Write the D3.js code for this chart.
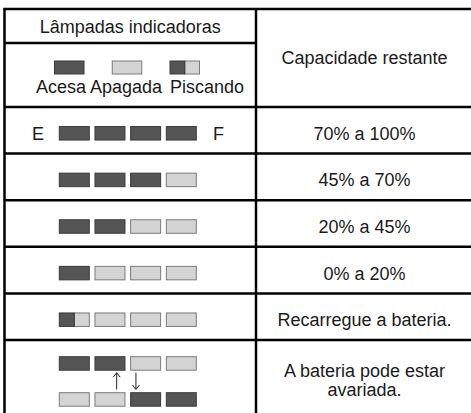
<!DOCTYPE html>
<html><head><meta charset="utf-8">
<script src="https://cdn.jsdelivr.net/npm/d3@7"></script>
<style>
html,body{margin:0;padding:0;background:#fff;}
svg{display:block;}
text{font-family:"Liberation Sans",Arial,Helvetica,sans-serif;fill:#1a1a1a;}
</style></head>
<body>
<script>
// ---- data ----
const headerLeft = "Lâmpadas indicadoras";
const headerRight = "Capacidade restante";
const legendStates = ["on", "off", "blink"];
const legendLabels = ["Acesa", "Apagada", "Piscando"];
const lampIndex = [0, 1, 2, 3];
const rowLamps = [
  [["on","on","on","on"]],
  [["on","on","on","off"]],
  [["on","on","off","off"]],
  [["on","off","off","off"]],
  [["blink","off","off","off"]],
  [["on","on","off","off"], ["off","off","on","on"]]
];
const rowCapacity = [
  ["70% a 100%"],
  ["45% a 70%"],
  ["20% a 45%"],
  ["0% a 20%"],
  ["Recarregue a bateria."],
  ["A bateria pode estar", "avariada."]
];
const endLabels = ["E", "F"];

// ---- layout ----
const W = 471, H = 413;
const svg = d3.select("body").append("svg").attr("width", W).attr("height", H);

const xLeft = 4.5, xDiv = 256, xRight = W;
const yTop = 9, yHead = 43, yRows = 107;
const rowH = 46.6;
const FS = 18;

const colors = {onFill:"#555555", onStroke:"#3a3a3a", offFill:"#d4d4d4", offStroke:"#7a7a7a"};

// lamp x scale
const x = d3.scaleBand().domain(lampIndex).range([59.3, 196.3]).paddingInner(0.159).paddingOuter(0);
const lampH = 13.5;

// row boundaries
const rowEdges = rowLamps.map((d, i) => yRows + i * rowH);
rowEdges.push(H);
const y = d3.scaleOrdinal().domain(d3.range(rowLamps.length)).range(rowEdges);

function drawLamp(g, state, x0, y0, w, h) {
  if (state === "blink") {
    g.append("rect").attr("x", x0 + w/2).attr("y", y0).attr("width", w/2).attr("height", h)
      .attr("fill", colors.offFill).attr("stroke", colors.offStroke).attr("stroke-width", 1);
    g.append("rect").attr("x", x0).attr("y", y0).attr("width", w/2).attr("height", h)
      .attr("fill", colors.onFill).attr("stroke", colors.onStroke).attr("stroke-width", 1);
  } else {
    const on = state === "on";
    g.append("rect").attr("x", x0).attr("y", y0).attr("width", w).attr("height", h)
      .attr("fill", on ? colors.onFill : colors.offFill)
      .attr("stroke", on ? colors.onStroke : colors.offStroke).attr("stroke-width", 1);
  }
}

// header texts
svg.append("text").attr("x", (xLeft + xDiv)/2).attr("y", 33).attr("text-anchor", "middle")
  .attr("font-size", FS).text(headerLeft);
svg.append("text").attr("x", (xDiv + xRight)/2 + 1).attr("y", 64).attr("text-anchor", "middle")
  .attr("font-size", FS).text(headerRight);

// legend
const legX = d3.scalePoint().domain(legendStates).range([54.5, 170]);
const legLabelX = [36, 90, 170];
const lg = svg.append("g");
legendStates.forEach((s, i) => {
  drawLamp(lg, s, legX(s), 61, 29.5, 13);
  lg.append("text").attr("x", legLabelX[i]).attr("y", 93).attr("font-size", FS).text(legendLabels[i]);
});

// rows
rowLamps.forEach((sets, r) => {
  const top = y(r), bot = y(r + 1);
  const g = svg.append("g");
  if (sets.length === 1) {
    const cy = (top + bot) / 2 + 3;
    sets[0].forEach((s, i) => drawLamp(g, s, x(i), cy - lampH/2, x.bandwidth(), lampH));
    if (r === 0) {
      g.append("text").attr("x", 32).attr("y", cy + 6.5).attr("font-size", FS).text(endLabels[0]);
      g.append("text").attr("x", 213).attr("y", cy + 6.5).attr("font-size", FS).text(endLabels[1]);
    }
  } else {
    const ys = [top + 16.7, top + 52.7];
    sets.forEach((set, k) => set.forEach((s, i) => drawLamp(g, s, x(i), ys[k], x.bandwidth(), lampH)));
    // arrows
    const ax1 = x(1) + x.bandwidth() - 8.3, ax2 = x(2) + 5.3;
    const a1 = top + 32.7, a2 = top + 49.5;
    g.append("line").attr("x1", ax1).attr("x2", ax1).attr("y1", a2).attr("y2", a1 + 0.5)
      .attr("stroke", "#222").attr("stroke-width", 1);
    g.append("path").attr("d", `M${ax1-3.5},${a1+4.5} L${ax1},${a1} L${ax1+3.5},${a1+4.5}`)
      .attr("fill", "none").attr("stroke", "#222").attr("stroke-width", 1);
    g.append("line").attr("x1", ax2).attr("x2", ax2).attr("y1", a1).attr("y2", a2 - 0.5)
      .attr("stroke", "#222").attr("stroke-width", 1);
    g.append("path").attr("d", `M${ax2-3.5},${a2-4.5} L${ax2},${a2} L${ax2+3.5},${a2-4.5}`)
      .attr("fill", "none").attr("stroke", "#222").attr("stroke-width", 1);
  }
  const lines = rowCapacity[r];
  const cy = (top + bot) / 2 + 3;
  const lh = 19;
  lines.forEach((t, k) => {
    svg.append("text").attr("x", (xDiv + xRight)/2 + 1)
      .attr("y", cy + 6.5 + (k - (lines.length - 1)/2) * lh)
      .attr("text-anchor", "middle").attr("font-size", FS).text(t);
  });
});

// grid lines
const gl = svg.append("g").attr("stroke", "#000").attr("stroke-width", 2.5);
gl.append("line").attr("x1", xLeft - 1.25).attr("x2", xRight).attr("y1", yTop).attr("y2", yTop);
gl.append("line").attr("x1", xLeft).attr("x2", xDiv).attr("y1", yHead).attr("y2", yHead);
rowEdges.slice(0, -1).forEach(e => {
  gl.append("line").attr("x1", xLeft).attr("x2", xRight).attr("y1", e).attr("y2", e);
});
gl.append("line").attr("x1", xLeft).attr("x2", xLeft).attr("y1", yTop).attr("y2", H);
gl.append("line").attr("x1", xDiv).attr("x2", xDiv).attr("y1", yTop).attr("y2", H);
</script>
</body></html>
